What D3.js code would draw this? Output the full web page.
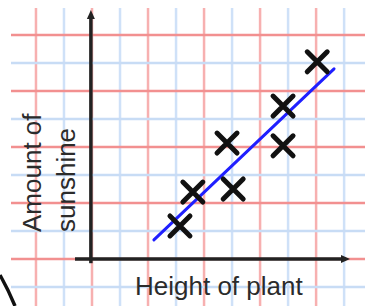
<!DOCTYPE html>
<html>
<head>
<meta charset="utf-8">
<script src="https://cdn.jsdelivr.net/npm/d3@7"></script>
<style>
  html, body { margin: 0; padding: 0; background: #fff; }
  svg { display: block; }
</style>
</head>
<body>
<div id="chart"></div>
<script>
// plant height vs sunshine, in grid squares
const heights = [3.14, 3.6, 4.82, 5.04, 6.82, 6.82, 8.04];
const sunshine = [1.18, 2.39, 4.14, 2.5, 5.46, 4.04, 7.04];
const fitLine = [[2.21, 0.68], [8.64, 6.79]];
const gridX = d3.range(-2, 10);
const gridY = d3.range(-1, 9);
const xLabel = "Height of plant";
const yLabel = ["Amount of", "sunshine"];

const width = 365, height = 306;

const svg = d3.select("#chart").append("svg")
    .attr("width", width)
    .attr("height", height);

// origin at (92,259), 28px per square
const x = d3.scaleLinear().domain([0, 9.21]).range([92, 350]);
const y = d3.scaleLinear().domain([0, 8.89]).range([259, 10]);

// graph paper
const grid = svg.append("g");
grid.selectAll("line.v")
    .data(gridX)
    .join("line")
    .attr("class", "v")
    .attr("x1", d => x(d)).attr("x2", d => x(d))
    .attr("y1", 8).attr("y2", height)
    .attr("stroke", d => d % 2 === 0 ? "#f7b0b0" : "#cfe1f8")
    .attr("stroke-width", 2.5);

grid.selectAll("line.h")
    .data(gridY)
    .join("line")
    .attr("class", "h")
    .attr("x1", 11).attr("x2", width)
    .attr("y1", d => y(d)).attr("y2", d => y(d))
    .attr("stroke", d => d % 2 === 0 ? "#f29090" : "#c8dcf5")
    .attr("stroke-width", 2.5);

// axes
const axisColor = "#222";
svg.append("line")
    .attr("x1", 75).attr("x2", x(9.05))
    .attr("y1", y(0)).attr("y2", y(0))
    .attr("stroke", axisColor).attr("stroke-width", 3.5);
svg.append("line")
    .attr("x1", x(-0.04)).attr("x2", x(-0.04))
    .attr("y1", y(8.7)).attr("y2", y(-0.15))
    .attr("stroke", axisColor).attr("stroke-width", 3.5);

svg.append("path")
    .attr("d", `M${x(9.21)},${y(0)} L${x(9.21) - 9},${y(0) - 4} L${x(9.21) - 9},${y(0) + 4} Z`)
    .attr("fill", axisColor);
svg.append("path")
    .attr("d", `M${x(-0.04)},${y(8.89)} L${x(-0.04) - 4},${y(8.89) + 9} L${x(-0.04) + 4},${y(8.89) + 9} Z`)
    .attr("fill", axisColor);

// best fit line
svg.append("line")
    .attr("x1", x(fitLine[0][0])).attr("y1", y(fitLine[0][1]))
    .attr("x2", x(fitLine[1][0])).attr("y2", y(fitLine[1][1]))
    .attr("stroke", "#1f1fff")
    .attr("stroke-width", 3)
    .attr("stroke-linecap", "round");

// crosses
const s = 10;
const pts = heights.map((h, i) => [h, sunshine[i]]);
svg.append("g")
    .selectAll("path")
    .data(pts)
    .join("path")
    .attr("d", d => {
        const cx = x(d[0]), cy = y(d[1]);
        return `M${cx - s},${cy - s}L${cx + s},${cy + s}M${cx - s},${cy + s}L${cx + s},${cy - s}`;
    })
    .attr("stroke", "#111")
    .attr("stroke-width", 5)
    .attr("stroke-linecap", "round")
    .attr("fill", "none");

// labels
svg.append("text")
    .attr("x", 135).attr("y", 295)
    .attr("font-family", "'Liberation Sans', Arial, sans-serif")
    .attr("font-size", 26)
    .attr("fill", "#2b2b2b")
    .text(xLabel);

svg.append("g")
    .attr("transform", "translate(41,232) rotate(-90)")
    .selectAll("text")
    .data(yLabel)
    .join("text")
    .attr("x", 0)
    .attr("y", (d, i) => i * 34)
    .attr("font-family", "'Liberation Sans', Arial, sans-serif")
    .attr("font-size", 26)
    .attr("fill", "#2b2b2b")
    .text(d => d);

// stray stroke at lower left corner
svg.append("path")
    .attr("d", "M0,275 Q8,289 15,306")
    .attr("stroke", "#111")
    .attr("stroke-width", 3.5)
    .attr("fill", "none");
</script>
</body>
</html>
